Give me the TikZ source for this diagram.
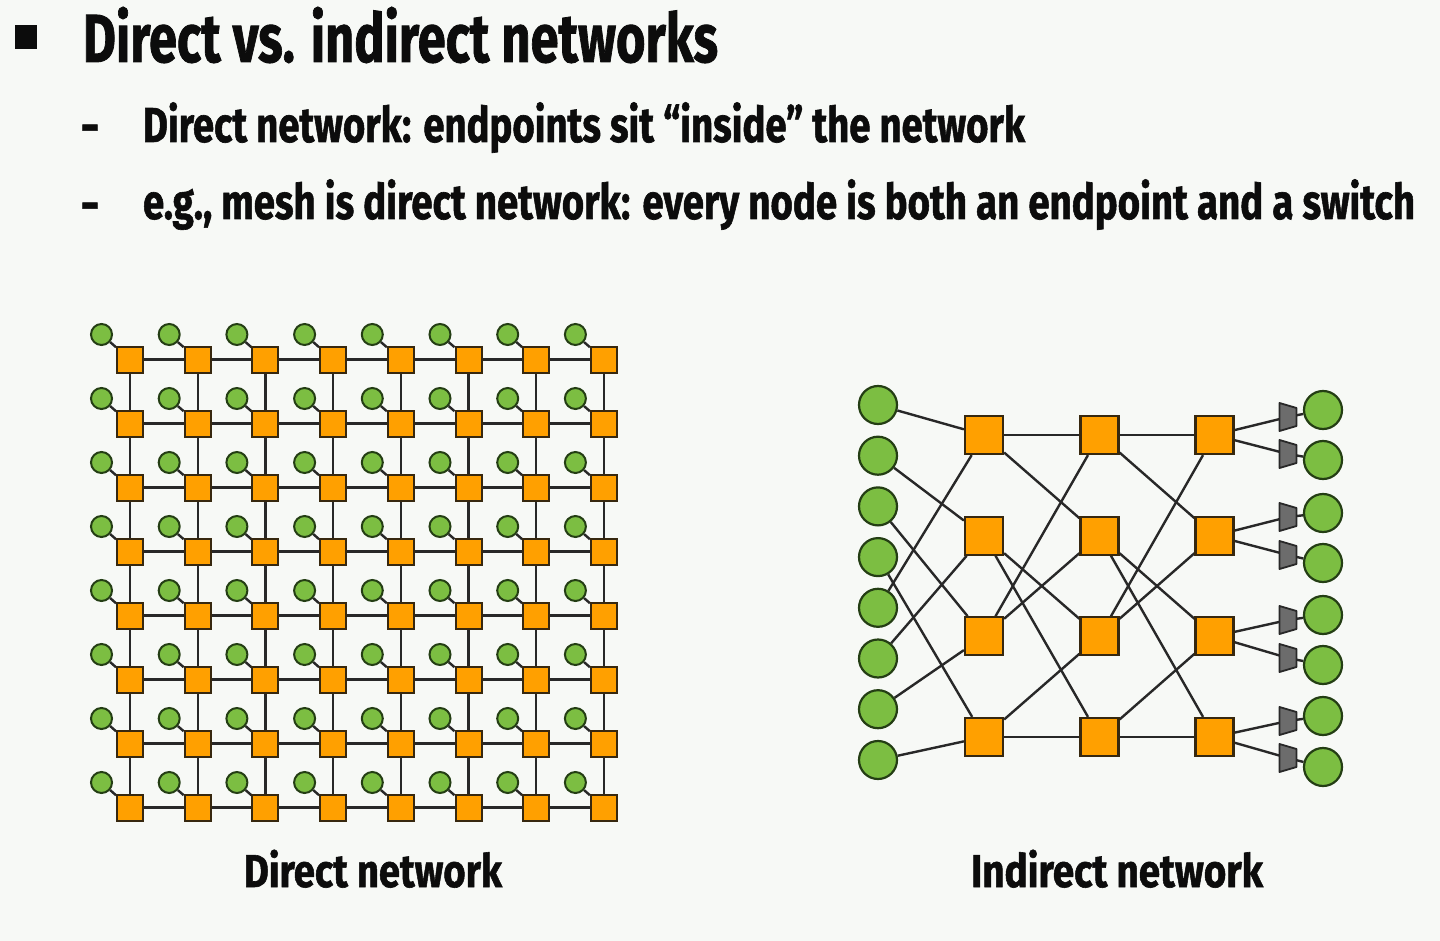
\documentclass[tikz,border=0pt]{standalone}
\usepackage{fontspec}
\setmainfont{Fira Sans}[BoldFeatures={FakeBold=1.3}]
\usepackage{graphicx}

\definecolor{paper}{RGB}{247,249,246}
\definecolor{ink}{RGB}{12,12,12}
\definecolor{wire}{RGB}{40,40,40}
\definecolor{swfill}{RGB}{255,160,0}
\definecolor{swline}{RGB}{55,40,15}
\definecolor{epfill}{RGB}{124,190,66}
\definecolor{epline}{RGB}{36,62,20}
\definecolor{nicfill}{RGB}{108,108,108}
\definecolor{nicline}{RGB}{40,40,40}

\pgfdeclarelayer{bg}
\pgfdeclarelayer{edges}
\pgfsetlayers{bg,edges,main}

% squeeze a line of text to a given width, keeping its height
\newcommand\fitw[2]{\resizebox{#1}{\height}{#2}}
\newcommand\headfont{\fontsize{68}{80}\selectfont\bfseries}
\newcommand\itemfont{\fontsize{49}{58}\selectfont\bfseries}
\newcommand\capfont{\fontsize{46}{55}\selectfont\bfseries}

\tikzset{
  txt/.style={anchor=base west, inner sep=0, outer sep=0, text=ink},
  link/.style={draw=wire, line width=2.4},
  msw/.style={rectangle, draw=swline, fill=swfill, line width=2,
    minimum size=26, inner sep=0},
  mep/.style={circle, draw=epline, fill=epfill, line width=2,
    minimum size=21, inner sep=0},
  isw/.style={rectangle, draw=swline, fill=swfill, line width=2.2,
    minimum size=38, inner sep=0},
  iep/.style={circle, draw=epline, fill=epfill, line width=2.2,
    minimum size=38, inner sep=0},
  port/.style={rectangle, minimum width=17, minimum height=28,
    inner sep=0, outer sep=0},
  portbody/.style={draw=nicline, fill=nicfill, line width=1.8, line join=round},
}

\begin{document}
\begin{tikzpicture}[x=1pt, y=-1pt]
\begin{pgfonlayer}{bg}
  \fill[paper] (0,0) rectangle (1440,941);
\end{pgfonlayer}
\useasboundingbox (0,0) rectangle (1440,941);

% heading and bullets
\node[fill=ink, minimum width=22, minimum height=24, inner sep=0] (bullet) at (26,37) {};
\node[txt, font=\headfont] (title) at (83,62) {\fitw{635pt}{Direct vs. indirect networks}};
\node[txt, font=\itemfont] (dash1) at (82,143) {\fitw{16pt}{–}};
\node[txt, font=\itemfont] (item1) at (143,142) {\fitw{882pt}{Direct network: endpoints sit “inside” the network}};
\node[txt, font=\itemfont] (dash2) at (82,221) {\fitw{16pt}{–}};
\node[txt, font=\itemfont] (item2) at (143,219) {\fitw{1272pt}{e.g., mesh is direct network: every node is both an endpoint and a switch}};

% captions
\node[txt, font=\capfont] (capA) at (244,887) {\fitw{258pt}{Direct network}};
\node[txt, font=\capfont] (capB) at (971,887) {\fitw{292pt}{Indirect network}};

% 8x8 mesh: a switch per tile, with its endpoint attached at the top left
\foreach \i in {0,...,7}
  \foreach \j in {0,...,7} {
    \node[msw] (s\i\j) at ({130+67.7*\i},{359.5+64*\j}) {};
    \node[mep] (e\i\j) at ({101.5+67.7*\i},{334.5+64*\j}) {};
  }
\begin{pgfonlayer}{edges}
  \foreach \i/\n in {0/1,1/2,2/3,3/4,4/5,5/6,6/7,7/8}
    \foreach \j in {0,...,7} {
      \draw[link] (e\i\j) -- (s\i\j);
      \ifnum\i<7
        \draw[link] (s\i\j) -- (s\n\j);
        \draw[link] (s\j\i) -- (s\j\n);
      \fi
    }
\end{pgfonlayer}

% indirect network: endpoints, three switch stages, output ports
\foreach \k/\y in {1/405,2/455.7,3/506.4,4/557.1,5/607.8,6/658.5,7/709.2,8/760}
  \node[iep] (L\k) at (878,\y) {};
\foreach \c/\x in {1/984,2/1099.5,3/1214.5}
  \foreach \r/\y in {1/435,2/535.7,3/636.3,4/737}
    \node[isw] (S\c\r) at (\x,\y) {};
\foreach \k/\y in {1/417,2/454,3/517,4/555,5/620,6/658,7/721,8/758} {
  \node[port] (T\k) at (1288,\y) {};
  \path[portbody] (T\k.north west) -- ([yshift=-5pt]T\k.north east)
    -- ([yshift=5pt]T\k.south east) -- (T\k.south west) -- cycle;
}
\foreach \k/\y in {1/410,2/460,3/513,4/563,5/615,6/665,7/716,8/767}
  \node[iep] (R\k) at (1323,\y) {};

\begin{pgfonlayer}{edges}
  % first stage: endpoint k feeds switch k mod 4
  \foreach \k/\r in {1/1,2/2,3/3,4/4,5/1,6/2,7/3,8/4}
    \draw[link] (L\k) -- (S1\r);
  % the two inner stages share one wiring pattern
  \foreach \a/\b in {1/1,1/2,2/3,2/4,3/1,3/2,4/3,4/4} {
    \draw[link] (S1\a) -- (S2\b);
    \draw[link] (S2\a) -- (S3\b);
  }
  % last stage: two ports per switch, one endpoint per port
  \foreach \k/\r in {1/1,2/1,3/2,4/2,5/3,6/3,7/4,8/4} {
    \draw[link] (S3\r) -- (T\k);
    \draw[link] (T\k) -- (R\k);
  }
\end{pgfonlayer}
\end{tikzpicture}
\end{document}
